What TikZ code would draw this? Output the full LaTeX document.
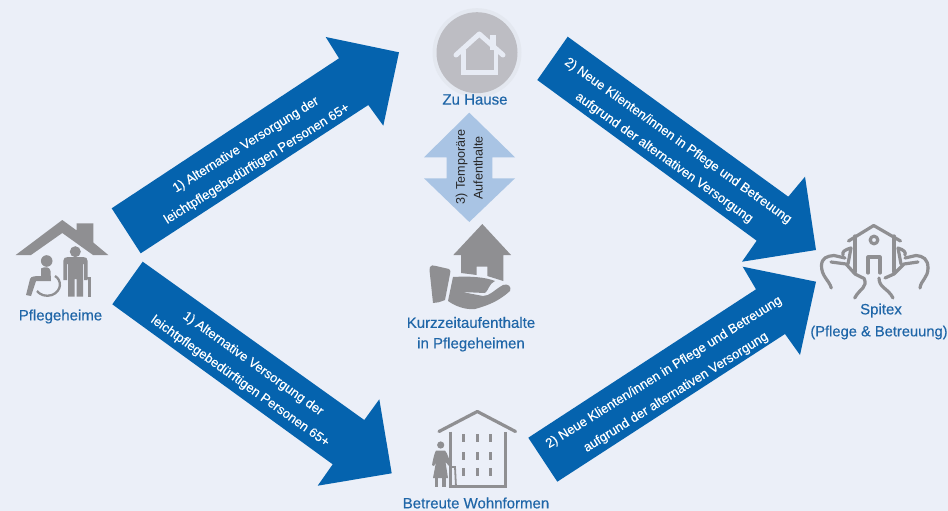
\documentclass[tikz,border=0pt]{standalone}
\usepackage{fontspec}
\setmainfont{Liberation Sans}
\newfontfamily\medfont[FakeBold=0.35]{Liberation Sans}
\definecolor{bgc}{HTML}{EBEFF8}
\definecolor{arrowblue}{HTML}{0563AE}
\definecolor{labelblue}{HTML}{1F66A8}
\definecolor{icongrey}{HTML}{8F8F92}
\definecolor{circgrey}{HTML}{BDBDC3}
\definecolor{lightblue}{HTML}{A9C4E4}
\tikzset{
  bigarrow/.style={fill=arrowblue,draw=none},
  arrowtext/.style={text=white,font=\medfont\fontsize{13}{15}\selectfont,inner sep=0pt,anchor=center},
  place/.style={text=labelblue,font=\medfont\fontsize{15}{17}\selectfont,inner sep=0pt,anchor=center},
  upright/.style={rotate=90,font=\fontsize{12.6}{14}\selectfont,text=black!85,inner sep=0pt},
  greyfill/.style={fill=icongrey,draw=none},
}
\begin{document}
\begin{tikzpicture}[x=1pt,y=-1pt]
\fill[bgc] (0,0) rectangle (948,511);
\useasboundingbox (0,0) rectangle (948,511);

% big arrows
\fill[bigarrow] (111.7,208.3) -- (339,58.3) -- (325.7,37) -- (399,52.3) -- (383.3,125.7) -- (368.3,105) -- (140.7,253.3) -- cycle;
\fill[bigarrow] (567.7,36.7) -- (788.3,196.7) -- (805,176.7) -- (816,250) -- (742,261.7) -- (756.7,240.7) -- (537.3,80) -- cycle;
\fill[bigarrow] (142.7,261.7) -- (364.3,420) -- (379.3,399.3) -- (391.7,473.3) -- (317.7,485.7) -- (332.7,464.3) -- (112.3,304.3) -- cycle;
\fill[bigarrow] (528.3,437.7) -- (756,289.3) -- (742.7,266.7) -- (816,281.7) -- (800,355) -- (785,334) -- (557.3,481.7) -- cycle;

\node[arrowtext,rotate=32] (a1a) at (246,145) {1) Alternative Versorgung der};
\node[arrowtext,rotate=32] (a1b) at (257,164) {leichtpflegebedürftigen Personen 65+};
\node[arrowtext,rotate=-35.5] (a2a) at (678,141) {2) Neue Klienten/innen in Pflege und Betreuung};
\node[arrowtext,rotate=-35.5] (a2b) at (664,158) {aufgrund der alternativen Versorgung};
\node[arrowtext,rotate=-35.5] (a3a) at (253,364) {1) Alternative Versorgung der};
\node[arrowtext,rotate=-35.5] (a3b) at (240,381.5) {leichtpflegebedürftigen Personen 65+};
\node[arrowtext,rotate=32] (a4a) at (664,372.5) {2) Neue Klienten/innen in Pflege und Betreuung};
\node[arrowtext,rotate=32] (a4b) at (676,392.5) {aufgrund der alternativen Versorgung};

% double arrow
\fill[lightblue] (469.3,112.7) -- (515,157.3) -- (492.3,157.3) -- (492.3,178.3) -- (515,178.3) -- (469.3,222) -- (424,178.3) -- (446.7,178.3) -- (446.7,157.3) -- (424,157.3) -- cycle;
\node[upright] (t3a) at (461.5,167) {3) Temporäre};
\node[upright] (t3b) at (478,168) {Aufenthalte};

% Zu Hause icon
\fill[circgrey!15!bgc] (477,52.7) circle[radius=44.5pt];
\fill[circgrey] (477,52.7) circle[radius=40.5pt];
\fill[bgc!92!circgrey] (489.5,35) rectangle (495.5,50);
\draw[bgc!92!circgrey,line width=5pt,line join=round,line cap=round] (456,55) -- (479.3,34) -- (503,55);
\draw[bgc!92!circgrey,line width=4.5pt,line join=miter] (463.5,50) -- (463.5,72.5) -- (496,72.5) -- (496,50);

% Pflegeheime icon
\fill[greyfill] (15.7,255) -- (62.3,220) -- (76.7,230.5) -- (76.7,223.3) -- (93.3,223.3) -- (93.3,242.5) -- (108.3,255) -- (93,255) -- (62.3,233) -- (31,255) -- cycle;
\fill[greyfill] (75.3,251.7) circle[radius=5.5pt];
\fill[greyfill] (63.3,261) .. controls (63.3,258) and (65,257) .. (68,257) -- (83,257) .. controls (86,257) and (87.6,258) .. (87.6,261) -- (87.6,280) -- (84,280) -- (84,264) -- (83,264) -- (83,296.5) -- (76.5,296.5) -- (76.5,279) -- (74.5,279) -- (74.5,296.5) -- (68,296.5) -- (68,264) -- (67,264) -- (67,280) -- (63.3,280) -- cycle;
\draw[icongrey,line width=2.2pt] (89.5,296.5) -- (89.5,278) -- (86,278);
\fill[greyfill] (46.7,261) circle[radius=5.8pt];
\fill[greyfill] (41,268.5) .. controls (45,266) and (50,267) .. (50.5,271) -- (51,281) -- (43,281) -- (36,281) -- (31,296) -- (26,295) -- (30,279) .. controls (31,276) and (36,276) .. (41,276) -- cycle;
\draw[icongrey,line width=2.3pt] (55,276) .. controls (62,280) and (62,291) .. (52,295) .. controls (46,297) and (40,295) .. (37,291);

% Kurzzeit icon
\fill[greyfill] (482.3,224) -- (511,255) -- (503.3,255) -- (503.3,281) -- (487.3,276) -- (487.3,266.7) -- (476.7,266.7) -- (476.7,275) -- (461,273) -- (461,255) -- (453.3,255) -- cycle;
\fill[greyfill] (430,267) .. controls (431,265) and (433,265) .. (436,266) -- (449,269) .. controls (451,270) and (450.5,272) .. (450,274) -- (445,300) .. controls (440,302) and (437,303) .. (433,303) -- (429.5,270) -- cycle;
\fill[greyfill] (453,277) .. controls (470,276) and (485,277) .. (495,281) .. controls (488,285) and (489,290) .. (485,293) -- (462,292) -- (483,296) .. controls (490,296) and (494,290) .. (503,285) .. controls (508,283) and (512,287) .. (510,291) .. controls (500,300) and (490,305) .. (475,309) .. controls (465,310) and (455,306) .. (448,301) -- cycle;

% Betreute icon
\draw[icongrey,line width=3.2pt,line join=round,line cap=round] (439,431.5) -- (477.3,411.5) -- (515.5,431.5);
\draw[icongrey,line width=3pt] (450,431.5) -- (450,486.8) -- (505,486.8) -- (505,431.5);
\foreach \wx/\wy in {463.3/438.3,477.3/438.3,490.7/438.3,463.3/456,477.3/456,490.7/456,463.3/472.3,477.3/472.3,490.7/472.3}
  \fill[icongrey] (\wx-1.6,\wy-4) rectangle (\wx+1.6,\wy+4);
\fill[greyfill] (440.7,445) circle[radius=3.6pt];
\fill[greyfill] (436,450.5) -- (445,450.5) .. controls (448,454) and (449,460) .. (451,464) -- (449,466) -- (445.5,462) -- (448,478) -- (433,478) -- (436,462) -- (434,466) -- (432,465) .. controls (433,460) and (434,454) .. (436,450.5) -- cycle;
\fill[greyfill] (434.5,478) rectangle (438,487);
\fill[greyfill] (442,478) rectangle (445.5,487);
\draw[icongrey,line width=1.8pt] (452,467) -- (455,467) -- (456,487);

% Spitex icon
\begin{scope}[draw=icongrey,line width=3.2pt,line cap=round,line join=round,fill=none]
\draw (848.5,241) -- (873.7,225.5) -- (900.5,241);
\draw (855,236) -- (855,272) (894,236) -- (894,272);
\draw (868,273) -- (868,257) -- (880,257) -- (880,273);
\draw (874,240) circle[radius=3.8pt];
\draw (831.3,288) .. controls (829,280) and (821,276) .. (821.5,265) .. controls (822,258) and (827,256) .. (834,255.5) -- (845,258);
\draw (831,262) -- (846,264) -- (855,274) -- (863,278);
\draw (843,255) .. controls (842,252) and (844,250) .. (851,248) -- (848,264);
\draw (928,268) .. controls (928,278) and (921,280) .. (920,288);
\draw (928,268) .. controls (928,259) and (923,256) .. (916,255.5) -- (905,258);
\draw (918,262) -- (904,264) -- (894,274) -- (885,278);
\draw (905,255) .. controls (906,252) and (904,250) .. (898,248) -- (901,264);
\draw (864,278) .. controls (868,288) and (860,288) .. (854.7,298);
\draw (879,278) .. controls (879,288) and (888,288) .. (893,298);
\end{scope}

% labels
\node[place] (zh) at (475,99.5) {Zu Hause};
\node[place] (pf) at (60.5,316.5) {Pflegeheime};
\node[place] (kz1) at (471,322.5) {Kurzzeitaufenthalte};
\node[place] (kz2) at (471,344.5) {in Pflegeheimen};
\node[place] (bw) at (476,503) {Betreute Wohnformen};
\node[place] (sp1) at (881,310.5) {Spitex};
\node[place,font=\medfont\fontsize{14.7}{17}\selectfont] (sp2) at (879,332.5) {(Pflege \& Betreuung)};
\end{tikzpicture}
\end{document}
